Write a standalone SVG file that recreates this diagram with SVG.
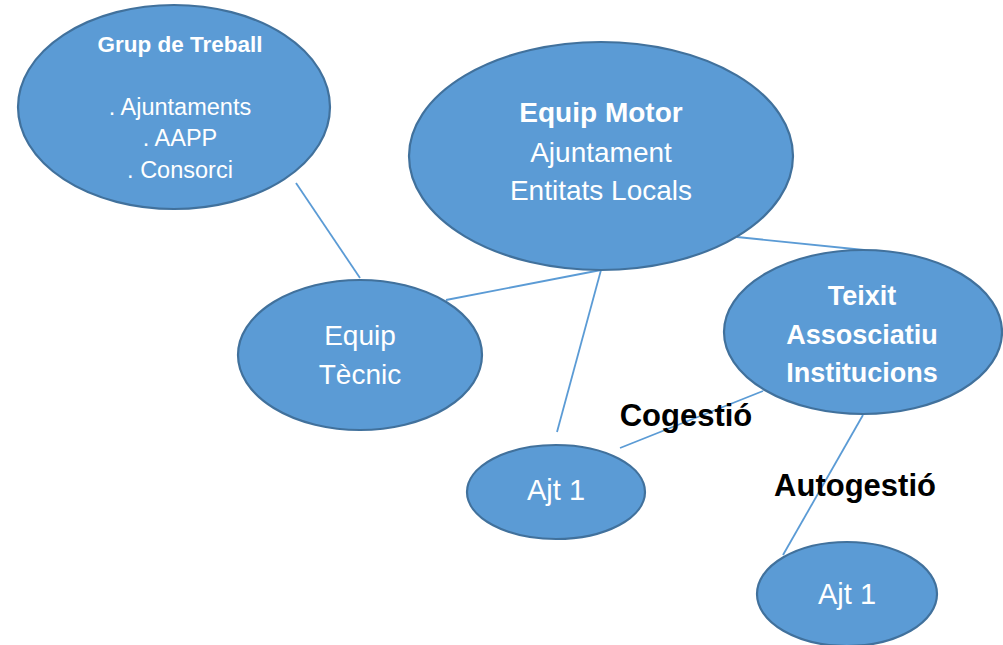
<svg xmlns="http://www.w3.org/2000/svg" width="1003" height="645" viewBox="0 0 1003 645">
<style>
.node{fill:#5B9BD5;stroke:#41719C;stroke-width:2.2}
.conn line{stroke:#5B9BD5;stroke-width:1.8}
.t{font-family:"Liberation Sans",Arial,sans-serif;fill:#fff;text-anchor:middle}
.b{font-weight:bold}
.lbl{font-family:"Liberation Sans",Arial,sans-serif;font-weight:bold;fill:#000;font-size:31px}
</style>
<rect width="1003" height="645" fill="#fff"/>
<g id="connectors" class="conn">
<line x1="296" y1="183" x2="360" y2="278"/>
<line x1="446" y1="300" x2="601" y2="270"/>
<line x1="601" y1="270" x2="557" y2="432"/>
<line x1="737" y1="237" x2="864" y2="250"/>
<line x1="763" y1="391" x2="620" y2="448"/>
<line x1="863" y1="415" x2="783" y2="555"/>
</g>
<g id="grup-treball">
<ellipse class="node" cx="174" cy="107" rx="156" ry="102"/>
<text class="t b" x="180" y="52" font-size="22.5">Grup de Treball</text>
<text class="t" x="180" y="115" font-size="23.5">. Ajuntaments</text>
<text class="t" x="180" y="146" font-size="23.5">. AAPP</text>
<text class="t" x="180" y="178" font-size="23.5">. Consorci</text>
</g>
<g id="equip-motor">
<ellipse class="node" cx="601" cy="156" rx="192" ry="114"/>
<text class="t b" x="601" y="122" font-size="28">Equip Motor</text>
<text class="t" x="601" y="162" font-size="28">Ajuntament</text>
<text class="t" x="601" y="200" font-size="28">Entitats Locals</text>
</g>
<g id="equip-tecnic">
<ellipse class="node" cx="360" cy="355" rx="122" ry="75"/>
<text class="t" x="360" y="345" font-size="28">Equip</text>
<text class="t" x="360" y="384" font-size="28">Tècnic</text>
</g>
<g id="teixit">
<ellipse class="node" cx="863" cy="332" rx="139" ry="82"/>
<text class="t b" x="862" y="305" font-size="27">Teixit</text>
<text class="t b" x="862" y="344" font-size="27">Assosciatiu</text>
<text class="t b" x="862" y="382" font-size="27">Institucions</text>
</g>
<g id="ajt1-a">
<ellipse class="node" cx="556" cy="492" rx="89" ry="47"/>
<text class="t" x="556" y="500" font-size="29">Ajt 1</text>
</g>
<g id="ajt1-b">
<ellipse class="node" cx="847" cy="594" rx="90" ry="52"/>
<text class="t" x="847" y="604" font-size="29">Ajt 1</text>
</g>
<g id="labels">
<text class="lbl" x="686" y="426" text-anchor="middle">Cogestió</text>
<text class="lbl" x="855" y="496" text-anchor="middle">Autogestió</text>
</g>
</svg>
